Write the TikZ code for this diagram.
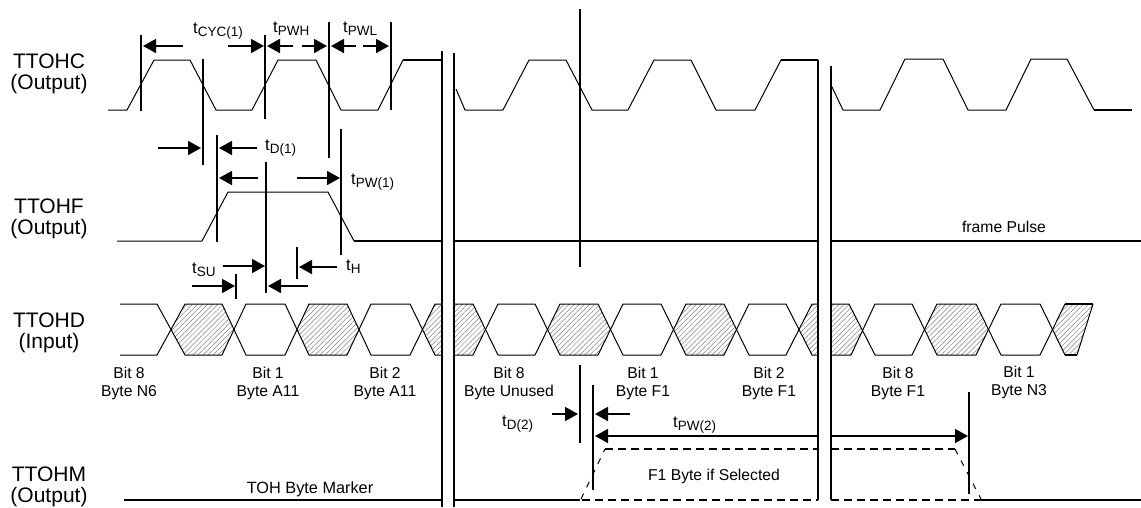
\documentclass[tikz,border=0pt]{standalone}
\usepackage{fontspec}
\setmainfont{Liberation Sans}
\usetikzlibrary{arrows.meta,patterns.meta}
\newcommand{\tname}[1]{t\raisebox{-0.4ex}{\fontsize{13.5}{14}\selectfont #1}}

\begin{document}
\begin{tikzpicture}[
  x=1pt, y=-1pt,
  >={Triangle[length=13pt,width=14pt]},
  wave/.style={line width=1pt, line join=round},
  level/.style={line width=1.9pt},
  marker/.style={line width=1.7pt},
  gapline/.style={line width=2pt},
  span/.style={->, line width=1.7pt},
  hatch/.style={pattern={Lines[angle=45,distance=3.6pt,line width=0.5pt]}, pattern color=gray},
  selected/.style={line width=1.5pt, dash pattern=on 8pt off 5pt},
  signame/.style={align=center, inner sep=0pt, font=\fontsize{21}{21.5}\selectfont},
  bitname/.style={align=center, inner sep=0pt, font=\fontsize{15.7}{18}\selectfont},
  timename/.style={anchor=base west, inner sep=0pt, font=\fontsize{16.5}{17}\selectfont},
  note/.style={anchor=base, inner sep=0pt, font=\fontsize{15.7}{18}\selectfont}
]

\useasboundingbox (0,0) rectangle (1141,507);

\node[signame] (TTOHC) at (49,74) {TTOHC\\(Output)};
\node[signame] (TTOHF) at (49,219) {TTOHF\\(Output)};
\node[signame] (TTOHD) at (49,333) {TTOHD\\(Input)};
\node[signame] (TTOHM) at (49,487) {TTOHM\\(Output)};

\draw[wave] (108,110) -- (127,110) -- (154,60) -- (190,60) -- (216,110) -- (252,110) -- (278,60) -- (316,60) -- (341,110) -- (378,110) -- (403,60);
\draw[level] (403,60) -- (442,60);
\draw[wave] (456,89) -- (465,110) -- (503,110) -- (529,60) -- (566,60) -- (592,110) -- (628,110) -- (654,60) -- (691,60) -- (716,110) -- (755,110) -- (781,60);
\draw[level] (781,60) -- (818,60);
\draw[wave] (831,85) -- (843,110) -- (880,110) -- (905,59) -- (943,59) -- (968,110) -- (1006,110) -- (1031,59) -- (1067,59) -- (1094,110);
\draw[level] (1094,110) -- (1132,110);

\draw[wave] (117,241) -- (202,241) -- (228,192) -- (328,192) -- (354,241);
\draw[level] (354,241) -- (442,241);
\draw[level] (454,241) -- (818,241);
\draw[level] (830,241) -- (1141,241);

\fill[hatch] (171,330) -- (185,304) -- (222,304) -- (234,330) -- (222,355) -- (185,355) -- cycle;
\fill[hatch] (297,330) -- (309,304) -- (347,304) -- (359,330) -- (347,355) -- (309,355) -- cycle;
\fill[hatch] (423,330) -- (435,304) -- (442,304) -- (442,355) -- (435,355) -- cycle;
\fill[hatch] (454,304) -- (473,304) -- (485,330) -- (473,355) -- (454,355) -- cycle;
\fill[hatch] (548,330) -- (560,304) -- (598,304) -- (611,330) -- (598,355) -- (560,355) -- cycle;
\fill[hatch] (674,330) -- (686,304) -- (724,304) -- (736,330) -- (724,355) -- (686,355) -- cycle;
\fill[hatch] (799,330) -- (812,304) -- (818,304) -- (818,355) -- (812,355) -- cycle;
\fill[hatch] (831,304) -- (849,304) -- (862,330) -- (851,355) -- (831,355) -- cycle;
\fill[hatch] (925,330) -- (937,304) -- (976,304) -- (988,330) -- (976,355) -- (937,355) -- cycle;
\fill[hatch] (1052,330) -- (1065,304) -- (1093,304) -- (1077,355) -- (1065,355) -- cycle;

\draw[wave] (120,304) -- (157,304) -- (185,355) -- (222,355) -- (246,304) -- (285,304) -- (309,355) -- (347,355) -- (371,304) -- (410,304) -- (435,355) -- (442,355);
\draw[wave] (120,355) -- (157,355) -- (185,304) -- (222,304) -- (246,355) -- (285,355) -- (309,304) -- (347,304) -- (371,355) -- (410,355) -- (435,304) -- (442,304);
\draw[wave] (454,304) -- (473,304) -- (498,355) -- (535,355) -- (560,304) -- (598,304) -- (623,355) -- (661,355) -- (686,304) -- (724,304) -- (749,355) -- (786,355) -- (812,304) -- (818,304);
\draw[wave] (454,355) -- (473,355) -- (498,304) -- (535,304) -- (560,355) -- (598,355) -- (623,304) -- (661,304) -- (686,355) -- (724,355) -- (749,304) -- (786,304) -- (812,355) -- (818,355);
\draw[wave] (831,304) -- (849,304) -- (875,355) -- (912,355) -- (937,304) -- (976,304) -- (1001,355) -- (1040,355) -- (1065,304);
\draw[wave] (831,355) -- (851,355) -- (875,304) -- (912,304) -- (937,355) -- (976,355) -- (1001,304) -- (1040,304) -- (1065,355);
\draw[level] (1065,304) -- (1093,304);
\draw[wave] (1093,304) -- (1077,355);
\draw[level] (1065,355) -- (1077,355);

\draw[level] (124,500) -- (442,500);
\draw[level] (454,500) -- (580,500);
\draw[selected] (582,500) -- (818,500);
\draw[selected] (831,500) -- (981,500);
\draw[selected] (605,449) -- (818,449);
\draw[selected] (831,449) -- (955,449);
\draw[wave, dash pattern=on 6pt off 7pt] (581,499) -- (605,449);
\draw[wave, dash pattern=on 6pt off 7pt] (955,449) -- (981,499);
\draw[level] (981,500) -- (1141,500);

\draw[gapline] (442,51) -- (442,507);
\draw[gapline] (454,53) -- (454,507);
\draw[gapline] (818,60) -- (818,500);
\draw[gapline] (831,66) -- (831,500);

\draw[marker] (141,35) -- (141,111);
\draw[marker] (203,59) -- (203,165);
\draw[marker] (265,35) -- (265,119);
\draw[marker] (329,22) -- (329,158);
\draw[marker] (391,22) -- (391,110);
\draw[marker] (217,135) -- (217,242);
\draw[marker] (266,162) -- (266,293);
\draw[marker] (341,129) -- (341,255);
\draw[marker] (236,274) -- (236,299);
\draw[marker] (297,247) -- (297,279);
\draw[marker] (580,9) -- (580,267);
\draw[marker] (580,365) -- (580,443);
\draw[marker] (593,385) -- (593,490);
\draw[marker] (969,392) -- (969,494);

\draw[span] (183,46) -- (143,46);
\draw[span] (228,46) -- (264,46);
\draw[span] (293,46) -- (267,46);
\draw[span] (302,46) -- (327,46);
\draw[span] (356,46) -- (331,46);
\draw[span] (363,46) -- (389,46);
\draw[span] (158,148) -- (201,148);
\draw[span] (257,148) -- (219,148);
\draw[span] (258,178) -- (219,178);
\draw[span] (297,178) -- (340,178);
\draw[span] (223,266) -- (265,266);
\draw[span] (192,286) -- (235,286);
\draw[span] (337,267) -- (299,267);
\draw[span] (308,286) -- (268,286);
\draw[span] (552,414) -- (578,414);
\draw[span] (630,414) -- (595,414);
\draw[span] (817,436) -- (595,436);
\draw[span] (831,436) -- (968,436);

\node[timename] (tcyc) at (193,33) {\tname{CYC(1)}};
\node[timename] (tpwh) at (273,32) {\tname{PWH}};
\node[timename] (tpwl) at (343,32) {\tname{PWL}};
\node[timename] (tdone) at (265,150) {\tname{D(1)}};
\node[timename] (tpwone) at (351,184) {\tname{PW(1)}};
\node[timename] (tsu) at (192,273) {\tname{SU}};
\node[timename] (th) at (346,270) {\tname{H}};
\node[timename] (tdtwo) at (502,426) {\tname{D(2)}};
\node[timename] (tpwtwo) at (673,427) {\tname{PW(2)}};

\node[bitname] (bitn) at (129,383) {Bit 8\\Byte N6};
\node[bitname] (bita) at (268,383) {Bit 1\\Byte A11};
\node[bitname] (bitb) at (385,383) {Bit 2\\Byte A11};
\node[bitname] (bitu) at (509,383) {Bit 8\\Byte Unused};
\node[bitname] (bitf) at (643,383) {Bit 1\\Byte F1};
\node[bitname] (bitg) at (769,383) {Bit 2\\Byte F1};
\node[bitname] (bith) at (898,383) {Bit 8\\Byte F1};
\node[bitname] (bitm) at (1019,382) {Bit 1\\Byte N3};

\node[note] (pulse) at (1004,232) {frame Pulse};
\node[note, font=\fontsize{16.3}{18}\selectfont] (tohmark) at (310,493) {TOH Byte Marker};
\node[note] (fbyte) at (714,480) {F1 Byte if Selected};

\end{tikzpicture}
\end{document}
